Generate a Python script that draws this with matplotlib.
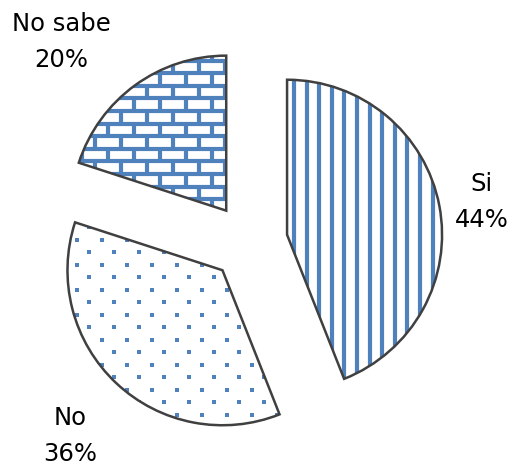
import numpy as np
import matplotlib.pyplot as plt
from matplotlib.collections import LineCollection

labels = ['Si', 'No', 'No sabe']
values = [44, 36, 20]

blue = '#4F81BD'
edge = '#404040'
px = 1 / 155.0  # one pixel in data units (pie radius = 1)

# label anchor points, in data units
label_pos = [(1.50, 0.26), (-1.155, -1.25), (-1.21, 1.29)]


def vertical_lines(ax, clip):
	xs = np.arange(0.290 - 40 * 12.6 * px, 2.0, 12.6 * px)
	segs = [[(x, -2), (x, 2)] for x in xs]
	lc = LineCollection(segs, colors=blue, linewidths=3.0, zorder=2)
	lc.set_clip_path(clip)
	ax.add_collection(lc)


def dots(ax, clip):
	dy = 12.5 * px
	dx = 25 * px
	xs, ys = [], []
	for i, y in enumerate(np.arange(-2, 2, dy)):
		shift = (dx / 2) if i % 2 else 0
		for x in np.arange(-2, 2, dx):
			xs.append(x + shift)
			ys.append(y)
	sc = ax.scatter(xs, ys, s=8, marker='s', color=blue, linewidths=0, zorder=2)
	sc.set_clip_path(clip)


def bricks(ax, clip):
	dy = 12.6 * px
	dx = 26 * px
	segs = []
	rows = np.arange(-2, 2, dy)
	for i, y in enumerate(rows):
		segs.append([(-2, y), (2, y)])
		shift = (dx / 2) if i % 2 else 0
		for x in np.arange(-2, 2, dx):
			segs.append([(x + shift, y), (x + shift, y + dy)])
	lc = LineCollection(segs, colors=blue, linewidths=3.0, zorder=2)
	lc.set_clip_path(clip)
	ax.add_collection(lc)


fig = plt.figure(figsize=(5.14, 4.65), dpi=100)
ax = fig.add_axes([0, 0, 1, 1])

wedges, _ = ax.pie(values, startangle=90, counterclock=False, explode=[0.25] * 3,
	radius=1, wedgeprops=dict(facecolor='none', edgecolor=edge, linewidth=1.8))

for w in wedges:
	w.set_zorder(3)

vertical_lines(ax, wedges[0])
dots(ax, wedges[1])
bricks(ax, wedges[2])

for lab, v, (x, y) in zip(labels, values, label_pos):
	ax.text(x, y, '%s\n%d%%' % (lab, v), ha='center', va='center', fontsize=17.5,
		family='DejaVu Sans', color='black', linespacing=1.65)

ax.set_xlim(-249 * px, (514 - 249) * px)
ax.set_ylim(-(465 - 242) * px, 242 * px)
ax.set_aspect('equal')
ax.axis('off')

fig.savefig('out.png', dpi=100)
